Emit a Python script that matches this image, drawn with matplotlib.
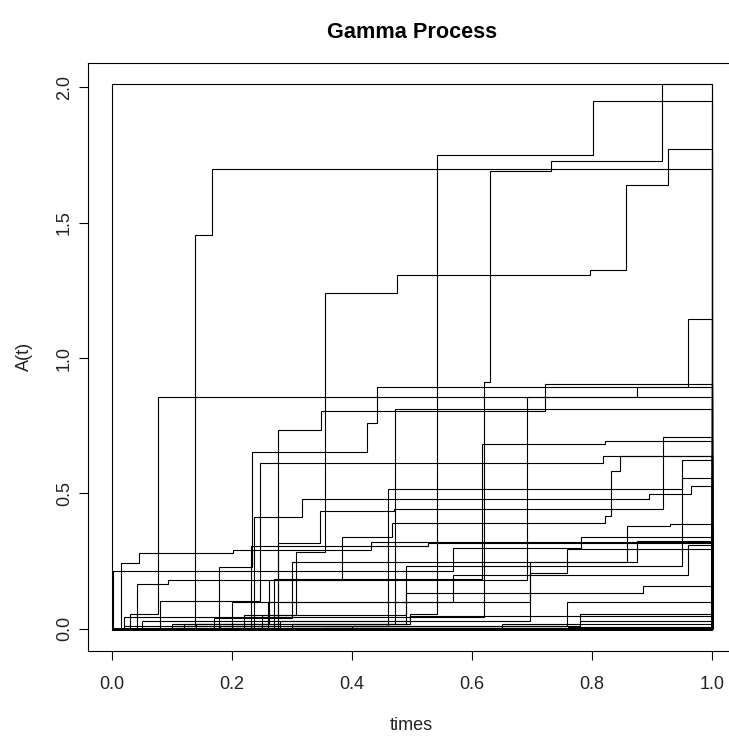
import matplotlib
matplotlib.use("Agg")
import matplotlib.pyplot as plt

plt.rcParams['font.family'] = ['Liberation Sans', 'DejaVu Sans']

# ---------------- data ----------------
title = "Gamma Process"
x_label = "times"
y_label = "A(t)"
x_ticks = [0.0, 0.2, 0.4, 0.6, 0.8, 1.0]
x_tick_labels = ["0.0", "0.2", "0.4", "0.6", "0.8", "1.0"]
y_ticks = [0.0, 0.5, 1.0, 1.5, 2.0]
y_tick_labels = ["0.0", "0.5", "1.0", "1.5", "2.0"]
t_start, t_end = 0.0, 1.0

# each path: jump times and the level A(t) reached at each jump
p01_t = [0.02, 0.621, 0.630, 0.732, 0.918]
p01_a = [0.043, 0.91, 1.69, 1.728, 2.01]
p02_t = [0.05, 0.498, 0.543, 0.802]
p02_a = [0.03, 0.056, 1.749, 1.949]
p03_t = [0.25, 0.308, 0.355, 0.476, 0.797, 0.858, 0.928]
p03_a = [0.05, 0.283, 1.242, 1.307, 1.325, 1.638, 1.771]
p04_t = [0.02, 0.139, 0.167]
p04_a = [0.01, 1.455, 1.697]
p05_t = [0.03, 0.078, 0.876, 0.961]
p05_a = [0.055, 0.855, 0.892, 1.144]
p06_t = [0.179, 0.234, 0.426, 0.443]
p06_a = [0.230, 0.654, 0.762, 0.894]
p07_t = [0.10, 0.278, 0.349, 0.723]
p07_a = [0.01, 0.734, 0.806, 0.904]
p08_t = [0.12, 0.472]
p08_a = [0.02, 0.812]
p09_t = [0.10, 0.262, 0.693]
p09_a = [0.02, 0.181, 0.855]
p10_t = [0.14, 0.270, 0.618, 0.822]
p10_a = [0.02, 0.184, 0.683, 0.695]
p11_t = [0.278, 0.347, 0.470, 0.919]
p11_a = [0.316, 0.437, 0.443, 0.707]
p12_t = [0.08, 0.247, 0.819]
p12_a = [0.104, 0.611, 0.637]
p13_t = [0.043, 0.094, 0.384, 0.468, 0.822, 0.832, 0.848]
p13_a = [0.166, 0.181, 0.338, 0.391, 0.416, 0.584, 0.637]
p14_t = [0.22, 0.49, 0.95]
p14_a = [0.05, 0.234, 0.622]
p15_t = [0.18, 0.461, 0.951]
p15_a = [0.01, 0.517, 0.559]
p16_t = [0.238, 0.318, 0.896, 0.965]
p16_a = [0.412, 0.480, 0.498, 0.526]
p17_t = [0.17, 0.30, 0.859, 0.93]
p17_a = [0.04, 0.246, 0.381, 0.387]
p18_t = [0.26, 0.698, 0.876]
p18_a = [0.10, 0.246, 0.326]
p19_t = [0.232, 0.527]
p19_a = [0.305, 0.318]
p20_t = [0.20, 0.569, 0.96]
p20_a = [0.10, 0.20, 0.308]
p21_t = [0.28, 0.698, 0.759]
p21_a = [0.03, 0.207, 0.296]
p22_t = [0.27, 0.49, 0.886]
p22_a = [0.02, 0.131, 0.16]
p23_t = [0.30, 0.759]
p23_a = [0.01, 0.098]
p24_t = [0.35, 0.78]
p24_a = [0.005, 0.055]
p25_t = [0.002, 0.569, 0.783]
p25_a = [0.215, 0.30, 0.34]
p26_t = [0.015, 0.046, 0.202, 0.433]
p26_a = [0.242, 0.279, 0.29, 0.32]
p27_t = [0.05, 0.30, 0.498]
p27_a = [0.005, 0.02, 0.049]
p28_t = [0.11, 0.40, 0.78]
p28_a = [0.003, 0.01, 0.031]
p29_t = [0.20, 0.65]
p29_a = [0.004, 0.018]
p30_t = [0.30, 0.76]
p30_a = [0.002, 0.008]

paths = [
    (p01_t, p01_a), (p02_t, p02_a), (p03_t, p03_a), (p04_t, p04_a),
    (p05_t, p05_a), (p06_t, p06_a), (p07_t, p07_a), (p08_t, p08_a),
    (p09_t, p09_a), (p10_t, p10_a), (p11_t, p11_a), (p12_t, p12_a),
    (p13_t, p13_a), (p14_t, p14_a), (p15_t, p15_a), (p16_t, p16_a),
    (p17_t, p17_a), (p18_t, p18_a), (p19_t, p19_a), (p20_t, p20_a),
    (p21_t, p21_a), (p22_t, p22_a), (p23_t, p23_a), (p24_t, p24_a),
    (p25_t, p25_a), (p26_t, p26_a), (p27_t, p27_a), (p28_t, p28_a),
    (p29_t, p29_a), (p30_t, p30_a),
]

# ---------------- build one step polyline (like R type="S") ----------------
ymax = max(max(a) for _, a in paths)
xs, ys = [], []


def add_path(times, levels):
    level = 0.0
    xs.append(t_start)
    ys.append(level)
    for t, v in zip(times, levels):
        xs.extend([t, t])
        ys.extend([level, v])
        level = v
    xs.append(t_end)
    ys.append(level)
    xs.append(t_end)
    ys.append(0.0)


add_path([t_start], [ymax])  # range frame drawn first
for tt, aa in paths:
    add_path(tt, aa)

# ---------------- figure ----------------
W, H = 729, 738
fig = plt.figure(figsize=(W / 100, H / 100), dpi=100)
ax = fig.add_axes([87.7 / W, 1 - 650.7 / H, (735.7 - 87.7) / W, (650.7 - 62.7) / H])

ax.plot(xs, ys, color='black', lw=0.8, solid_joinstyle='miter')

xr = t_end - t_start
ax.set_xlim(t_start - 0.04 * xr, t_end + 0.04 * xr)
ax.set_ylim(0 - 0.04 * ymax, ymax + 0.04 * ymax)

ax.set_xticks(x_ticks)
ax.set_xticklabels(x_tick_labels)
ax.set_yticks(y_ticks)
ax.set_yticklabels(y_tick_labels, rotation=90, va='center')

for s in ax.spines.values():
    s.set_linewidth(0.8)
    s.set_color('black')

ax.tick_params(axis='both', direction='out', length=6.5, width=0.8,
               colors='black', labelsize=13)
ax.tick_params(axis='x', pad=11.5)
ax.tick_params(axis='y', pad=4)
for lbl in ax.get_xticklabels() + ax.get_yticklabels():
    lbl.set_color('#222222')

cx = (87.7 + 735.7) / 2 / W
fig.text(cx, 1 - 32 / H, title, ha='center', va='center', fontsize=15.6,
         fontweight='bold')
fig.text(cx, 1 - 725 / H, x_label, ha='center', va='center', fontsize=13,
         color='#222222')
fig.text(24 / W, 1 - 356.7 / H, y_label, ha='center', va='center', fontsize=13,
         rotation=90, color='#222222')

fig.savefig('out.png', dpi=100)
